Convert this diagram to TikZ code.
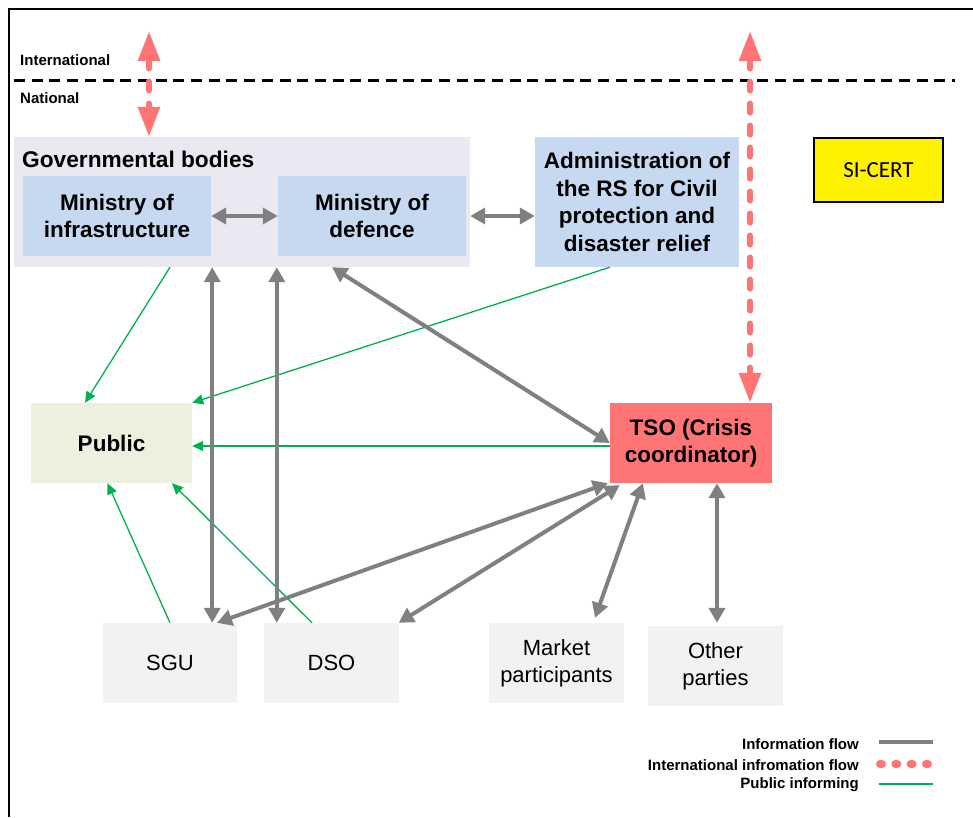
\documentclass[tikz,border=0pt]{standalone}
\usepackage{fontspec}
\setmainfont{Liberation Sans}
\newfontfamily\calibri{Carlito}
\usetikzlibrary{arrows.meta}
\definecolor{govfill}{RGB}{234,232,240}
\definecolor{minblue}{RGB}{198,217,240}
\definecolor{pubgreen}{RGB}{235,241,222}
\definecolor{tsored}{RGB}{255,117,117}
\definecolor{partgray}{RGB}{242,242,242}
\definecolor{flowgray}{RGB}{128,128,128}
\definecolor{infogreen}{RGB}{0,176,80}
\begin{document}
\begin{tikzpicture}[x=1pt,y=-1pt,
    bigbox/.style={align=center,inner sep=0pt,font=\fontsize{22.5}{27.5}\selectfont\bfseries},
    partbox/.style={align=center,inner sep=0pt,fill=partgray,minimum width=135pt,minimum height=80pt,font=\fontsize{22}{27}\selectfont},
    flow/.style={line width=4pt,flowgray,{Triangle[length=15pt,width=16pt]}-{Triangle[length=15pt,width=16pt]}},
    intflow/.style={line width=6pt,tsored,line cap=round,dash pattern=on 9pt off 13pt,{Triangle[length=30pt,width=21pt]}-{Triangle[length=30pt,width=21pt]}},
    pubinf/.style={line width=1.3pt,infogreen,-{Triangle[length=11pt,width=10pt]}},
    legtext/.style={anchor=east,inner sep=0pt,font=\fontsize{15}{17}\selectfont\bfseries}]
    \useasboundingbox (0,0) rectangle (973,817);

    % frame and border between levels
    \draw[line width=1.3pt] (9,817) -- (9,9) -- (973,9);
    \draw[line width=3pt,dash pattern=on 11pt off 6.7pt] (14,80) -- (955,80);
    \node[anchor=west,inner sep=0pt,font=\fontsize{15}{17}\selectfont\bfseries] (intl) at (20,60) {International};
    \node[anchor=west,inner sep=0pt,font=\fontsize{15}{17}\selectfont\bfseries] (natl) at (20,98) {National};

    % boxes
    \node[fill=govfill,minimum width=456pt,minimum height=130pt,inner sep=0pt] (gov) at (242,202) {};
    \node[anchor=west,inner sep=0pt,font=\fontsize{22.7}{27}\selectfont\bfseries] (govLabel) at (22,159) {Governmental bodies};
    \node[bigbox,fill=minblue,minimum width=188pt,minimum height=80pt] (minInfra) at (117,216) {Ministry of\\infrastructure};
    \node[bigbox,fill=minblue,minimum width=188pt,minimum height=80pt] (minDef) at (372,216) {Ministry of\\defence};
    \node[bigbox,fill=minblue,minimum width=204pt,minimum height=130pt] (admin) at (637,202) {Administration of\\the RS for Civil\\protection and\\disaster relief};
    \node[draw,line width=1.5pt,fill=yellow,minimum width=129pt,minimum height=64pt,inner sep=0pt,font=\calibri\fontsize{23}{27}\selectfont] (sicert) at (878.5,170) {SI-CERT};
    \node[bigbox,fill=pubgreen,minimum width=161pt,minimum height=80pt] (public) at (111.5,443) {Public};
    \node[bigbox,fill=tsored,minimum width=162pt,minimum height=80pt] (tso) at (691,443) {TSO (Crisis\\coordinator)};
    \node[partbox,minimum width=134pt] (sgu) at (170,663) {SGU};
    \node[partbox] (dso) at (331.5,663) {DSO};
    \node[partbox] (market) at (556.5,663) {Market\\participants};
    \node[partbox] (other) at (715.5,666) {Other\\parties};

    % international flows
    \coordinate (intL) at (149,31);
    \coordinate (intR) at (750,31);
    \draw[intflow] (intL) -- (intL |- gov.north);
    \draw[intflow] (intR) -- (intR |- tso.north);

    % public informing
    \draw[pubinf] ([xshift=-72pt]gov.south) -- ([xshift=-26.5pt]public.north);
    \draw[pubinf] ([xshift=-27pt]admin.south) -- (public.north east);
    \draw[pubinf] ([yshift=-3pt]tso.west) -- ([yshift=-3pt]public.east);
    \draw[pubinf] (sgu.north) -- ([xshift=-4pt]public.south);
    \draw[pubinf] ([xshift=-19.5pt]dso.north) -- ([xshift=60.5pt]public.south);

    % information flows
    \draw[flow] (minInfra.east) -- (minDef.west);
    \draw[flow] (gov.east |- minDef.east) -- (admin.west |- minDef.east);
    \draw[flow] ([xshift=-25pt]sgu.north east |- gov.south) -- ([xshift=-25pt]sgu.north east);
    \draw[flow] ([xshift=13pt]dso.north west |- gov.south) -- ([xshift=13pt]dso.north west);
    \draw[flow] ([xshift=90pt]gov.south) -- (tso.west);
    \draw[flow] ([xshift=47pt]sgu.north) -- ([xshift=-2pt]tso.south west);
    \draw[flow] ([xshift=-0.5pt]dso.north east) -- ([xshift=10pt,yshift=-2pt]tso.south west);
    \draw[flow] ([xshift=38.5pt,yshift=5pt]market.north) -- ([xshift=33pt]tso.south west);
    \draw[flow] ([xshift=1.5pt,yshift=3pt]other.north) -- ([xshift=1.5pt]other.north |- tso.south);

    % legend
    \node[legtext] (legInfo) at (859,744) {Information flow};
    \node[legtext] (legInt) at (859,765) {International infromation flow};
    \node[legtext] (legPub) at (859,785) {Public informing};
    \draw[line width=4.5pt,flowgray] (879,742) -- (933,742);
    \draw[line width=8pt,tsored,line cap=round,dash pattern=on 2pt off 13.3pt] (880,764) -- (932,764);
    \draw[line width=1.3pt,infogreen] (879,784) -- (933,784);
\end{tikzpicture}
\end{document}
